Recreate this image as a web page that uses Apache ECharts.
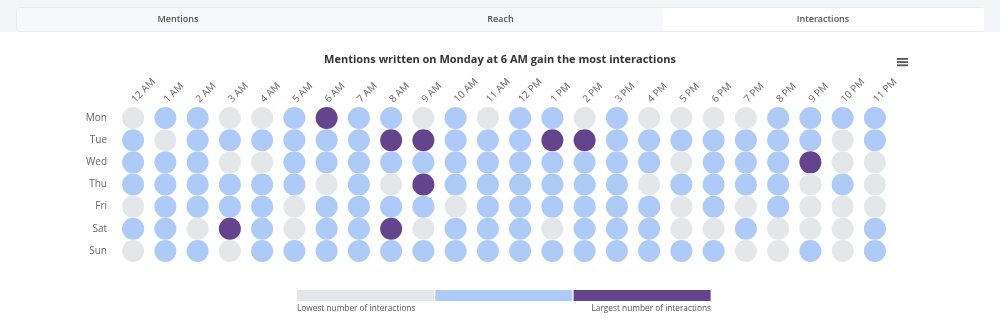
<!DOCTYPE html>
<html>
<head>
<meta charset="utf-8">
<script src="https://cdn.jsdelivr.net/npm/echarts@6/dist/echarts.min.js"></script>
<style>
html,body{margin:0;padding:0;background:#fff;}
#c{width:1000px;height:328px;}
</style>
</head>
<body>
<div id="c"></div>
<script>
var hours = ['12 AM','1 AM','2 AM','3 AM','4 AM','5 AM','6 AM','7 AM','8 AM','9 AM','10 AM','11 AM',
             '12 PM','1 PM','2 PM','3 PM','4 PM','5 PM','6 PM','7 PM','8 PM','9 PM','10 PM','11 PM'];
var days = ['Mon','Tue','Wed','Thu','Fri','Sat','Sun'];
// 0 = lowest, 1 = medium, 2 = largest number of interactions
var mon = [0,1,1,0,0,1,2,1,1,0,1,0, 1,1,0,1,0,0,0,0,1,1,1,1];
var tue = [1,0,1,1,1,1,1,1,2,2,1,1, 1,2,2,1,1,1,1,1,1,1,0,1];
var wed = [1,1,1,0,0,1,1,1,1,1,1,1, 1,1,1,1,1,0,1,1,1,2,0,0];
var thu = [1,1,1,1,1,1,0,1,0,2,1,1, 1,1,1,1,0,1,1,1,1,0,1,0];
var fri = [0,1,1,1,1,0,1,1,1,1,0,1, 1,1,1,1,1,0,1,0,1,0,0,0];
var sat = [1,1,0,2,1,0,1,1,2,0,1,1, 1,0,1,1,1,0,0,1,0,0,0,1];
var sun = [0,1,1,0,1,1,1,1,1,1,1,1, 1,1,1,1,1,1,1,0,0,1,0,1];
var levelColors = ['#e4e7ea','#aecaf7','#64458d'];
var legendLabels = ['Lowest number of interactions','Largest number of interactions'];
var tabs = ['Mentions','Reach','Interactions'];
var titleText = 'Mentions written on Monday at 6 AM gain the most interactions';

var rows = [mon,tue,wed,thu,fri,sat,sun];
var data = [];
rows.forEach(function(r, d){ r.forEach(function(v, h){ data.push([h, d, v]); }); });

var chart = echarts.init(document.getElementById('c'));
var g = [];
// tab bar
g.push({type:'rect', shape:{x:0,y:0,width:1000,height:32}, style:{fill:'#f4f5f7'}, silent:true, z:0});
g.push({type:'rect', shape:{x:16.5,y:7.5,width:968,height:24,r:3}, style:{fill:'#f7f8f9',stroke:'#e8eaed',lineWidth:1}, silent:true, z:1});
g.push({type:'rect', shape:{x:663.5,y:8,width:321,height:23,r:3}, style:{fill:'#ffffff'}, silent:true, z:2});
tabs.forEach(function(t,i){
  g.push({type:'text', x:178 + i*322.5, y:19.5, style:{text:t, fill:'#555', font:'600 9px "Open Sans", sans-serif', align:'center', verticalAlign:'middle'}, z:3});
});
// menu icon
for (var k=0;k<3;k++){
  g.push({type:'rect', shape:{x:897,y:58+k*3.2,width:11,height:1.8}, style:{fill:'#555'}, silent:true, z:3});
}
// legend
levelColors.forEach(function(c,i){
  g.push({type:'rect', shape:{x:297 + i*138.3, y:290, width:137, height:11}, style:{fill:c}, silent:true, z:3});
});
g.push({type:'text', x:297, y:309, style:{text:legendLabels[0], fill:'#555', font:'8.3px "Open Sans", sans-serif', align:'left', verticalAlign:'middle'}, z:3});
g.push({type:'text', x:711, y:309, style:{text:legendLabels[1], fill:'#555', font:'8.3px "Open Sans", sans-serif', align:'right', verticalAlign:'middle'}, z:3});

chart.setOption({
  animation:false,
  title:{text:titleText, left:'center', top:49, textStyle:{fontSize:11, fontWeight:'bold', color:'#333', fontFamily:'"Open Sans", sans-serif'}},
  grid:{left:117, right:109, top:107, bottom:66},
  xAxis:{type:'category', data:hours, position:'top', boundaryGap:true,
    axisLine:{show:false}, axisTick:{show:false}, splitLine:{show:false},
    axisLabel:{rotate:-45, interval:0, margin:6, color:'#666', fontSize:10, fontFamily:'"Open Sans", sans-serif'}},
  yAxis:{type:'category', data:days, inverse:true, boundaryGap:true,
    axisLine:{show:false}, axisTick:{show:false}, splitLine:{show:false},
    axisLabel:{margin:10, color:'#666', fontSize:10, fontFamily:'"Open Sans", sans-serif'}},
  visualMap:{show:false, type:'piecewise', dimension:2,
    pieces:[{value:0,color:levelColors[0]},{value:1,color:levelColors[1]},{value:2,color:levelColors[2]}]},
  series:[{type:'scatter', data:data, symbolSize:22, itemStyle:{opacity:1}}],
  graphic:g
});
</script>
</body>
</html>
